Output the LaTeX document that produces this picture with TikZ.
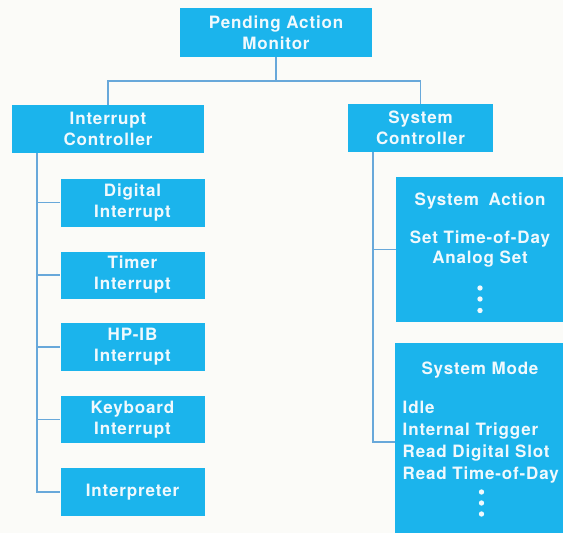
\documentclass[tikz,border=0pt]{standalone}
\usepackage{fontspec}
\setmainfont[LetterSpace=5]{TeX Gyre Heros}
\definecolor{paper}{RGB}{251,251,248}
\definecolor{boxblue}{RGB}{27,180,236}
\definecolor{boxtext}{RGB}{240,249,253}
\definecolor{wire}{RGB}{104,168,218}
\tikzset{
  box/.style={rectangle, fill=boxblue, text=boxtext, draw=none, inner sep=0pt,
    align=center, font=\fontsize{17}{21}\selectfont\bfseries},
  lbl/.style={text=boxtext, inner sep=0pt, font=\fontsize{17}{21}\selectfont\bfseries},
  dotmark/.style={circle, fill=boxtext, inner sep=0pt, minimum size=5.4pt},
  wiring/.style={draw=wire, line width=1.6pt},
}
\begin{document}
\begin{tikzpicture}[x=1pt,y=-1pt]
\useasboundingbox (0,0) rectangle (563,533);
\fill[paper] (0,0) rectangle (563,533);

% top level
\node[box, minimum width=192pt, minimum height=49pt] (pam) at (276,32.5) {Pending Action\\Monitor};

% second level
\node[box, minimum width=192pt, minimum height=48pt] (ic) at (108,129) {Interrupt\\Controller};
\node[box, minimum width=145pt, minimum height=48pt] (sc) at (420.5,128) {System\\Controller};

% interrupt handlers
\node[box, minimum width=144pt, minimum height=48pt] (di) at (132.5,202.5) {Digital\\Interrupt};
\node[box, minimum width=144pt, minimum height=47pt] (ti) at (132.5,275) {Timer\\Interrupt};
\node[box, minimum width=144pt, minimum height=48pt] (hp) at (132.5,347) {HP-IB\\Interrupt};
\node[box, minimum width=144pt, minimum height=47pt] (kb) at (132.5,419.5) {Keyboard\\Interrupt};
\node[box, minimum width=144pt, minimum height=48pt] (ip) at (132.5,492) {Interpreter};

% system action panel
\node[box, minimum width=167pt, minimum height=145pt] (sa) at (479.5,249.5) {};
\node[lbl, anchor=base] (satitle) at (480,205) {System\hspace{4pt} Action};
\node[lbl, anchor=base] (sa1) at (480,243) {Set Time-of-Day};
\node[lbl, anchor=base] (sa2) at (480,263) {Analog Set};
\node[dotmark] (sad1) at (480,288) {};
\node[dotmark] (sad2) at (480,299) {};
\node[dotmark] (sad3) at (480,310.5) {};

% system mode panel
\node[box, minimum width=168pt, minimum height=198pt] (sm) at (479,442) {};
\node[lbl, anchor=base] (smtitle) at (480,374) {System Mode};
\node[lbl, anchor=base west] (sm1) at (402.5,413) {Idle};
\node[lbl, anchor=base west] (sm2) at (402.5,435.5) {Internal Trigger};
\node[lbl, anchor=base west] (sm3) at (402.5,457) {Read Digital Slot};
\node[lbl, anchor=base west] (sm4) at (402.5,479) {Read Time-of-Day};
\node[dotmark] (smd1) at (481.5,492) {};
\node[dotmark] (smd2) at (481.5,503) {};
\node[dotmark] (smd3) at (481.5,514) {};

% connectors
\coordinate (bus) at (276,81);
\draw[wiring] (pam.south) -- (bus);
\draw[wiring] (ic.north) |- (bus) -| (sc.north);

\draw[wiring] ([xshift=25pt]ic.south west) |- (di.west);
\draw[wiring] ([xshift=25pt]ic.south west) |- (ti.west);
\draw[wiring] ([xshift=25pt]ic.south west) |- (hp.west);
\draw[wiring] ([xshift=25pt]ic.south west) |- (kb.west);
\draw[wiring] ([xshift=25pt]ic.south west) |- (ip.west);

\draw[wiring] ([xshift=25pt]sc.south west) |- (sa.west);
\draw[wiring] ([xshift=25pt]sc.south west) |- (sm.west);
\end{tikzpicture}
\end{document}
